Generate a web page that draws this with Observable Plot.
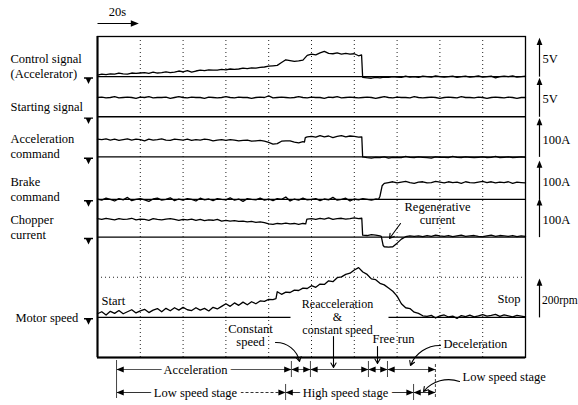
<!DOCTYPE html>
<html><head><meta charset="utf-8">
<script src="https://cdn.jsdelivr.net/npm/d3@7"></script>
<script src="https://cdn.jsdelivr.net/npm/@observablehq/plot@0.6"></script>
<style>
body{margin:0;background:#fff;}
#chart svg{display:block;}
</style></head><body><div id="chart"></div>
<script>
// ---------- DATA ----------
const sampleTimes = d3.range(0, 201, 2); // seconds, one sample every 2 s
const gridTimes = [0, 20, 40, 60, 80, 100, 120, 140, 160, 180, 200];

const controlSignal = [ // V
 0.2,0.3,0.25,0.35,0.3,0.45,0.35,0.3,0.45,0.4,
 0.45,0.5,0.4,0.55,0.45,0.5,0.6,0.5,0.55,0.7,
 0.6,0.75,0.55,0.7,0.8,0.75,0.85,0.8,0.8,0.9,
 0.85,0.95,0.9,0.95,1.05,1.0,1.1,1.05,1.15,1.2,
 1.3,1.35,1.4,1.75,2.1,2.0,1.9,1.95,2.05,2.65,
 2.8,2.7,2.95,3.15,2.9,2.85,2.95,2.8,2.9,2.8,
 2.85,2.6,-0.1,
 -0.15,-0.2,-0.1,-0.15,-0.05,-0.1,0,-0.05,-0.1,0.05,-0.05,0,-0.1,0.05,0,-0.05,0.1,0,-0.05,0,
 0.05,-0.1,0,0.05,-0.05,0,0.1,-0.05,0,0.05,-0.15,0,0.05,0,0.1,-0.05,0,0.05];
const controlEdges = [[123.4, 2.7], [123.9, -0.05]];

const startingSignal = [ // V
 2.4,2.45,2.35,2.4,2.5,2.35,2.4,2.45,2.4,2.3,2.45,2.4,2.5,2.35,2.4,2.4,2.45,2.3,2.4,2.5,
 2.4,2.35,2.45,2.4,2.4,2.3,2.45,2.4,2.35,2.4,2.5,2.4,2.35,2.45,2.4,2.4,2.3,2.4,2.45,2.4,
 2.6,2.35,2.4,2.45,2.4,2.35,2.4,2.5,2.4,2.35,2.45,2.4,2.4,2.3,2.45,2.4,2.5,2.35,2.4,2.45,
 2.4,2.35,2.4,2.45,2.4,2.3,2.4,2.5,2.4,2.35,2.45,2.4,2.4,2.35,2.5,2.4,2.35,2.4,2.45,2.4,
 2.3,2.4,2.45,2.4,2.35,2.5,2.4,2.4,2.35,2.45,2.4,2.3,2.4,2.45,2.4,2.35,2.45,2.4,2.3,2.4,
 2.4];
const startingEdges = [];

const accelCommand = [ // A
 44,43,45,42,44,41,43,45,42,44,
 43,40,44,42,43,45,42,41,44,43,
 42,44,41,43,42,44,43,40,42,43,
 41,43,42,40,41,42,39,40,41,39,
 36,32,33,39,40,40,37,35,38,50,
 51,49,53,50,52,48,51,53,50,52,
 51,49,0,
 -2,-3,-1,-2,0,-3,-1,-2,-2,1,-1,-2,0,-1,-2,-3,0,-1,-1,-2,
 1,-1,-2,0,-1,-2,-1,0,-2,-1,1,-2,-1,0,-2,-1,0,-1];
const accelEdges = [[96.7, 37], [97.1, 48], [123.5, 50], [123.9, 0]];

const brakeCommand = [ // A
 1,-2,3,0,-4,2,-1,5,-3,0, 2,-1,-5,1,3,-2,0,4,-3,1,
 -2,2,0,-4,3,-1,1,-3,2,0, -1,4,-2,1,-5,2,0,-1,3,-2,
 1,-3,2,0,6,-4,1,-2,3,-1, 0,2,-3,1,-1,5,-2,0,3,-4,
 1,-1,2,0,-2,1,
 8,40,
 42,44,41,43,45,42,40,43,44,41, 42,45,43,41,44,42,43,40,44,42,
 41,43,45,42,44,41,43,42,44,40, 43,42,41];
const brakeEdges = [[131.3, 0], [133.0, 34]];

const chopperCurrent = [ // A
 46,44,47,45,43,46,44,45,47,43,
 45,44,42,46,44,43,45,46,44,42,
 44,43,45,42,44,41,43,42,44,40,
 42,40,41,39,40,38,39,37,38,36,
 33,32,34,33,35,33,34,32,34,45,
 46,44,47,45,48,44,46,47,45,46,
 48,46,5,
 4,6,5,3,
 -24,-25,-24,-15,-5,1,3,2,
 3,1,4,2,5,3,2,4,1,3,5,2,3,4,2,1,3,5,2,4,3,2,4,1,3,2];
const chopperEdges = [[97.3, 33], [97.8, 44], [123.5, 47], [123.9, 5], [132.6, 2], [133.5, -21]];

const motorSpeed = [ // rpm
 18,28,12,30,20,34,18,28,38,22,
 32,40,24,36,44,28,45,33,48,36,
 50,38,34,48,36,45,32,50,42,55,
 68,55,72,60,76,63,78,68,82,80,
 90,88,128,115,126,124,136,134,146,144,
 158,150,166,164,182,178,198,202,214,220,
 236,248,226,214,192,188,170,162,146,130,
 106,68,48,44,26,20,8,
 5,10,-3,8,12,2,6,-5,9,4,11,3,7,14,6,10,15,5,12,8,3,10,6,2];
const motorEdges = [[83.4, 93]];

const channelNames = ["Control signal\n(Accelerator)", "Starting signal", "Acceleration\ncommand", "Brake\ncommand", "Chopper\ncurrent", "Motor speed"];
const scaleLabels = ["5V", "5V", "100A", "100A", "100A", "200rpm"];
const unitsPerDiv = [5, 5, 100, 100, 100, 200];

const phaseStart = [8.9, 90.6, 99.5, 126.6, 135.5];   // s
const phaseEnd   = [90.6, 99.5, 126.6, 135.5, 157.9];
const stageNames = ["Low speed stage", "High speed stage", "Low speed stage"];
const stageStart = [8.9, 87.9, 147.7];
const stageEnd   = [87.9, 147.7, 157.9];

// ---------- LAYOUT ----------
const W = 578, H = 405, mL = 97, mR = 53, mT = 36, mB = 48;
const tx = px => (px - mL) * 200 / (W - mL - mR);
const dy = py => (H - mB - py) * 8 / (H - mT - mB);

const channelBase = [7, 6, 5, 3.94, 3, 1];
const channelLift = [0.27, 0.27, 0.27, 0.27, 0.27, 0];
const channelIndent = [0, 0, 0, 0, 0, 5];
const series = [controlSignal, startingSignal, accelCommand, brakeCommand, chopperCurrent, motorSpeed];
const edges = [controlEdges, startingEdges, accelEdges, brakeEdges, chopperEdges, motorEdges];

const channels = channelNames.map((name, k) => ({
  name, unit: scaleLabels[k], perDiv: unitsPerDiv[k], base: channelBase[k], lift: channelLift[k], indent: channelIndent[k],
  points: sampleTimes.map((t, i) => ({t, v: series[k][i]}))
    .concat(edges[k].map(([t, v]) => ({t, v})))
    .sort((a, b) => a.t - b.t)
}));
const tracePts = channels.flatMap((c, k) => c.points.map(p => ({t: p.t, y: c.base + p.v / c.perDiv, k})));

// symbols (tip at the anchor point)
const rr = s => Math.sqrt(s / Math.PI);
const triRight = {draw(c, s){const r = rr(s); c.moveTo(0,0); c.lineTo(-2*r,-0.8*r); c.lineTo(-2*r,0.8*r); c.closePath();}};
const triLeft  = {draw(c, s){const r = rr(s); c.moveTo(0,0); c.lineTo(2*r,-0.8*r); c.lineTo(2*r,0.8*r); c.closePath();}};
const triUp    = {draw(c, s){const r = rr(s); c.moveTo(0,0); c.lineTo(-0.8*r,2*r); c.lineTo(0.8*r,2*r); c.closePath();}};
const ground   = {draw(c, s){const r = rr(s); c.rect(-1.4*r, 0.2*r, 2.8*r, 0.45*r); c.moveTo(-0.8*r,0.65*r); c.lineTo(0.8*r,0.65*r); c.lineTo(0, 2.3*r); c.closePath();}};

const FONT = "Liberation Serif, Times New Roman, serif";
const row1 = dy(369), row2 = dy(392);

const P = (s, x, y) => ({s, x: tx(x), y: dy(y)});
const notesMiddle = [
  P("20s", 117, 11),
  P("Regenerative", 437, 206), P("current", 437, 219),
  P("Constant", 250, 328), P("speed", 250, 341)
];
const notesReaccel = [P("Reacceleration", 337, 304), P("&", 337, 317), P("constant speed", 337, 330)];
const notesStart = [
  P("Start", 101, 300), P("Free run", 372, 338), P("Deceleration", 443, 343), P("Low speed stage", 462, 376)
];
const notesEnd = [P("Stop", 520, 298)];

const A = (x1, y1, x2, y2) => ({x1: tx(x1), y1: dy(y1), x2: tx(x2), y2: dy(y2)});
const straightArrows = [A(400, 223, 389, 238), A(333, 336, 333, 367), A(377, 346, 377, 363)];
const cwArrows = [A(275, 342, 299, 361)];
const ccwArrows = [A(440, 345, 410, 365), A(459, 381, 423, 391)];

const headsLeft = phaseStart.map(t => ({t, y: row1})).concat(stageStart.map(t => ({t, y: row2})));
const headsRight = phaseEnd.map(t => ({t, y: row1})).concat(stageEnd.map(t => ({t, y: row2})));
const tickR1 = [phaseEnd[0], phaseEnd[1], phaseEnd[2], phaseEnd[3]];
const tickR2 = [stageEnd[0], stageEnd[1]];
const stageMid = tx(195);

const txt = (data, anchor, size) => Plot.text(data, {x: "x", y: "y", text: "s", textAnchor: anchor, fill: "black", fontSize: size});

const plot = Plot.plot({
  width: W, height: H, marginLeft: mL, marginRight: mR, marginTop: mT, marginBottom: mB,
  x: {domain: [0, 200], axis: null},
  y: {domain: [0, 8], axis: null},
  style: {fontFamily: FONT, fontSize: "12.5px", background: "white", color: "black"},
  marks: [
    Plot.ruleX(gridTimes, {y1: 0, y2: 8, stroke: "#222", strokeDasharray: "1 3", strokeWidth: 1}),
    Plot.ruleY([2], {x1: 0, x2: 200, stroke: "#222", strokeDasharray: "1 3", strokeWidth: 1}),
    Plot.ruleY(channels.slice(0, 5), {y: "base", x1: 0, x2: 200, stroke: "black", strokeWidth: 1.4}),
    Plot.link([{a: 0, b: tx(290)}, {a: tx(388), b: 200}], {x1: "a", x2: "b", y1: 1, y2: 1, stroke: "black", strokeWidth: 1.4}),
    Plot.line(tracePts, {x: "t", y: "y", z: "k", stroke: "black", strokeWidth: 1.3}),
    Plot.frame({stroke: "black", strokeWidth: 1.3}),
    Plot.ruleX([0], {y1: 0, y2: 8, stroke: "black", strokeWidth: 2}),
    Plot.ruleY([0], {x1: 0, x2: 200, stroke: "black", strokeWidth: 2}),
    // ground markers
    Plot.dot(channels, {x: tx(88), y: "base", symbol: ground, r: 3.2, fill: "black"}),
    // channel names
    Plot.text(channels, {x: d => tx(10 + d.indent), y: d => d.base + d.lift, text: "name", textAnchor: "start", lineHeight: 1.2, fill: "black"}),
    // scale arrows on the right
    Plot.link(channels, {x1: tx(539), x2: tx(539), y1: "base", y2: d => d.base + 0.9, stroke: "black", strokeWidth: 1.2}),
    Plot.dot(channels, {x: tx(539), y: d => d.base + 0.97, symbol: triUp, r: 3.6, fill: "black"}),
    Plot.text(channels.slice(0, 5), {x: tx(542), y: d => d.base + 0.43, text: "unit", textAnchor: "start", fill: "black"}),
    Plot.text(channels.slice(5), {x: tx(541.5), y: d => d.base + 0.43, text: "unit", textAnchor: "start", fill: "black", fontSize: 11.5}),
    // 20 s arrow
    Plot.link([0], {x1: 0, x2: 18.5, y1: dy(23), y2: dy(23), stroke: "black", strokeWidth: 1.2}),
    Plot.dot([19.3], {x: d => d, y: dy(23), symbol: triRight, r: 4, fill: "black"}),
    // annotations
    txt(notesMiddle, "middle"), txt(notesReaccel, "middle", 12), txt(notesStart, "start"), txt(notesEnd, "end"),
    Plot.arrow(straightArrows, {x1: "x1", y1: "y1", x2: "x2", y2: "y2", headLength: 7, strokeWidth: 1.1, stroke: "black"}),
    Plot.arrow(cwArrows, {x1: "x1", y1: "y1", x2: "x2", y2: "y2", bend: 40, headLength: 7, strokeWidth: 1.1, stroke: "black"}),
    Plot.arrow(ccwArrows, {x1: "x1", y1: "y1", x2: "x2", y2: "y2", bend: -35, headLength: 7, strokeWidth: 1.1, stroke: "black"}),
    // phase rows
    Plot.link(phaseStart.map((s, i) => ({s, e: phaseEnd[i]})), {x1: "s", x2: "e", y1: row1, y2: row1, stroke: "#555", strokeWidth: 1}),
    Plot.link([{s: stageStart[0], e: stageMid}, {s: stageStart[1], e: stageEnd[1]}, {s: stageStart[2], e: stageEnd[2]}], {x1: "s", x2: "e", y1: row2, y2: row2, stroke: "#333", strokeWidth: 1}),
    Plot.link([{s: stageMid, e: stageEnd[0]}], {x1: "s", x2: "e", y1: row2, y2: row2, stroke: "#333", strokeWidth: 1, strokeDasharray: "3 2"}),
    Plot.dot(headsLeft, {x: "t", y: "y", symbol: triLeft, r: 3.6, fill: "black"}),
    Plot.dot(headsRight, {x: "t", y: "y", symbol: triRight, r: 3.6, fill: "black"}),
    Plot.ruleX(tickR1, {y1: row1 + 0.2, y2: row1 - 0.2, stroke: "#444", strokeWidth: 1}),
    Plot.ruleX(tickR2, {y1: row2 + 0.2, y2: row2 - 0.2, stroke: "#444", strokeWidth: 1}),
    Plot.ruleX([phaseStart[0]], {y1: dy(360), y2: dy(398), stroke: "#444", strokeWidth: 1}),
    Plot.ruleX([phaseEnd[4]], {y1: dy(364), y2: dy(398), stroke: "#444", strokeWidth: 1, strokeDasharray: "3 2"}),
    Plot.text([{s: "Acceleration", t: tx(195), y: row1}], {x: "t", y: "y", text: "s", fill: "black", stroke: "white", strokeWidth: 8}),
    Plot.text([{s: stageNames[0], t: tx(195), y: row2}, {s: stageNames[1], t: tx(345), y: row2}], {x: "t", y: "y", text: "s", fill: "black", stroke: "white", strokeWidth: 8})
  ]
});
document.getElementById("chart").appendChild(plot);
</script></body></html>
